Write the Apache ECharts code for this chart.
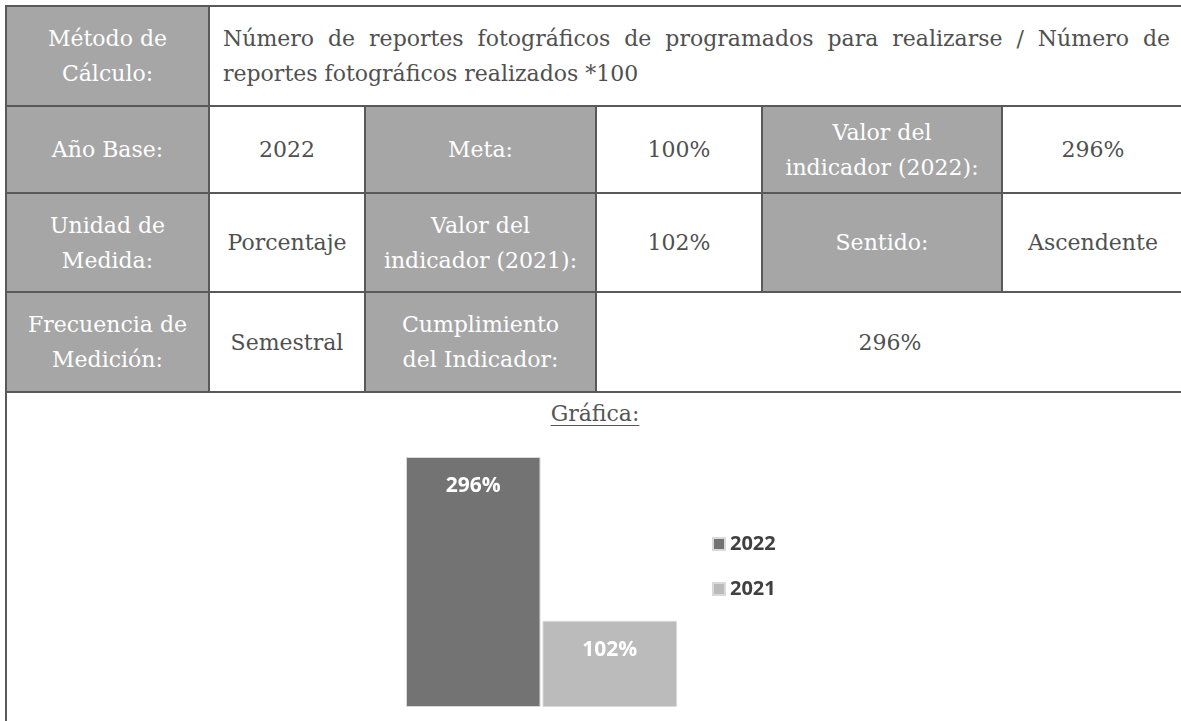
<!DOCTYPE html>
<html>
<head>
<meta charset="utf-8">
<script src="https://cdn.jsdelivr.net/npm/echarts@6/dist/echarts.min.js"></script>
<style>
  html, body { margin: 0; padding: 0; background: #ffffff; width: 1181px; height: 721px; overflow: hidden; }
  .cell { position: absolute; box-sizing: border-box; border: 2px solid #595959; display: flex;
          align-items: center; justify-content: center; text-align: center;
          font-family: "DejaVu Serif", serif; font-size: 22px; line-height: 35px; color: #505050; background: #ffffff; }
  .hdr { background: #a6a6a6; color: #ffffff; }
  .wide { justify-content: flex-start; text-align: justify; padding: 0 13px; }
  #lower { position: absolute; left: 5px; top: 391px; width: 2px; height: 330px; background: #595959; }
  #title { position: absolute; left: 0; width: 1190px; top: 401px; text-align: center;
           font-family: "DejaVu Serif", serif; font-size: 22px; color: #555555; text-decoration: underline;
           text-underline-offset: 4px; text-decoration-thickness: 1px; }
  #chart { position: absolute; left: 0; top: 392px; width: 1181px; height: 329px; }
</style>
</head>
<body>
<div id="table"></div>
<div id="lower"></div>
<div id="title">Gráfica:</div>
<div id="chart"></div>
<script>
// ---- data ----
const seriesNames = ['2022', '2021'];
const seriesValues = [296, 102];
const valueLabels = ['296%', '102%'];
const categories = ['Indicador'];
const seriesColors = ['#737373', '#bbbbbb'];

const rowMetodo = ['Método de<br>Cálculo:', 'Número de reportes fotográficos de programados para realizarse / Número de reportes fotográficos realizados *100'];
const rowBase = ['Año Base:', '2022', 'Meta:', '100%', 'Valor del<br>indicador (2022):', '296%'];
const rowUnidad = ['Unidad de<br>Medida:', 'Porcentaje', 'Valor del<br>indicador (2021):', '102%', 'Sentido:', 'Ascendente'];
const rowFrecuencia = ['Frecuencia de<br>Medición:', 'Semestral', 'Cumplimiento<br>del Indicador:', '296%'];

// ---- table layout ----
const xs = [6, 209, 365, 596, 762, 1002, 1184];
const ys = [6, 106, 193, 292, 392];
const table = document.getElementById('table');
function cell(html, c0, c1, r, hdr, wide) {
  const d = document.createElement('div');
  d.className = 'cell' + (hdr ? ' hdr' : '') + (wide ? ' wide' : '');
  d.style.left = (xs[c0] - 1) + 'px';
  d.style.top = (ys[r] - 1) + 'px';
  d.style.width = (xs[c1] - xs[c0] + 2) + 'px';
  d.style.height = (ys[r + 1] - ys[r] + 2) + 'px';
  if (wide) { const s = document.createElement('div'); s.style.width = '100%'; s.innerHTML = html; d.appendChild(s); }
  else d.innerHTML = html;
  table.appendChild(d);
}
cell(rowMetodo[0], 0, 1, 0, true);
cell(rowMetodo[1], 1, 6, 0, false, true);
[rowBase, rowUnidad].forEach((row, i) => {
  row.forEach((t, j) => cell(t, j, j + 1, i + 1, j % 2 === 0));
});
cell(rowFrecuencia[0], 0, 1, 3, true);
cell(rowFrecuencia[1], 1, 2, 3, false);
cell(rowFrecuencia[2], 2, 3, 3, true);
cell(rowFrecuencia[3], 3, 6, 3, false);

// ---- chart ----
const chart = echarts.init(document.getElementById('chart'), null, { renderer: 'canvas' });
chart.setOption({
  animation: false,
  grid: { left: 406, width: 271, top: 65, bottom: 14 },
  xAxis: { type: 'category', data: categories, show: false },
  yAxis: { type: 'value', min: 0, max: 296, show: false, splitLine: { show: false } },
  legend: {
    orient: 'vertical', left: 712, top: 142, padding: 0,
    data: seriesNames,
    icon: 'rect', itemWidth: 12, itemHeight: 12, itemGap: 25, itemTextGap: 10,
    textStyle: { fontFamily: '"Open Sans", sans-serif', fontWeight: 'bold', fontSize: 20, lineHeight: 20, color: '#404040' }
  },
  series: seriesNames.map((name, i) => ({
    name: name,
    type: 'bar',
    data: [seriesValues[i]],
    barCategoryGap: '0%',
    barGap: '1.5%',
    itemStyle: { color: seriesColors[i], borderColor: '#d9d9d9', borderWidth: 1 },
    label: {
      show: true, position: 'insideTop', distance: 19,
      formatter: () => valueLabels[i],
      color: '#ffffff', fontWeight: 'bold', fontSize: 21, fontFamily: '"Open Sans", sans-serif'
    }
  }))
});
</script>
</body>
</html>
